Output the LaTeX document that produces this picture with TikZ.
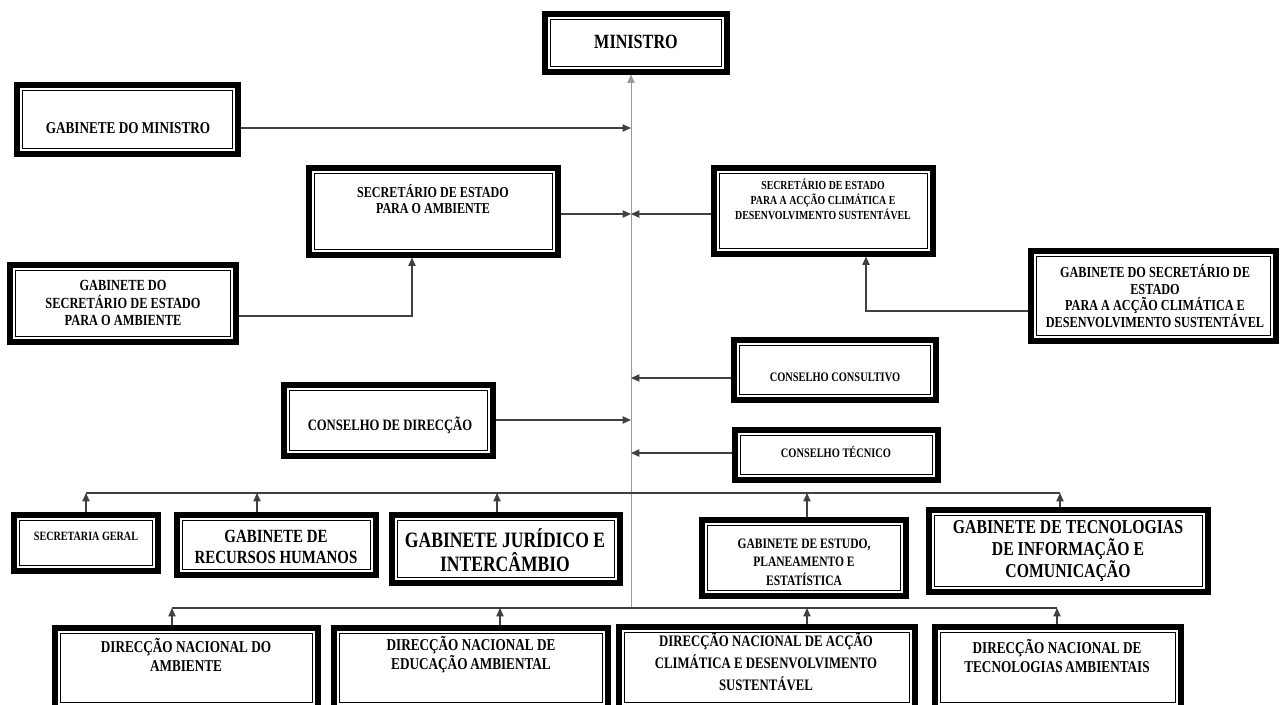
\documentclass[tikz,border=0pt]{standalone}
\usepackage{fontspec}
\setmainfont{Liberation Serif}[FakeStretch=0.8]
\usetikzlibrary{arrows.meta,fit}

\begin{document}
\begin{tikzpicture}[y=-0.02cm,x=0.02cm,
	obox/.style={draw, line width=2.9pt, inner sep=0pt, fit={#1},
		path picture={\draw[line width=0.6pt]
			([shift={(3.1pt,-3.1pt)}]path picture bounding box.north west) rectangle
			([shift={(-3.1pt,3.1pt)}]path picture bounding box.south east);}},
	lbl/.style 2 args={font=\bfseries\fontsize{#1}{#2}\selectfont, align=center, inner sep=0pt},
	conn/.style={draw=black!75, line width=0.6pt},
	arr/.style={conn, -{Triangle[length=4.8pt,width=4.2pt]}},
	spine/.style={draw=black!40, line width=0.5pt, -{Triangle[length=4.8pt,width=4.2pt]}}]
	\useasboundingbox (0,0) rectangle (1282,704);
	\clip (0,0) rectangle (1282,704);

	% top of the chart
	\node[obox={(545,14) (727,72)}] (min) {};
	\node[lbl={11.5}{13}] (min-t) at (636,42) {MINISTRO};

	\node[obox={(17,85) (238,154)}] (gm) {};
	\node[lbl={9.4}{11}] (gm-t) at (128,128) {GABINETE DO MINISTRO};

	\node[obox={(309,168) (558,255)}] (sea) {};
	\node[lbl={8.6}{9.2}] (sea-t) at (433,199) {SECRETÁRIO DE ESTADO\\PARA O AMBIENTE};

	\node[obox={(714,168) (933,254)}] (seac) {};
	\node[lbl={7}{8.5}] (seac-t) at (823,199) {SECRETÁRIO DE ESTADO\\PARA A ACÇÃO CLIMÁTICA E\\DESENVOLVIMENTO SUSTENTÁVEL};

	\node[obox={(10,265) (236,342)}] (gsea) {};
	\node[lbl={8.8}{9.8}] (gsea-t) at (123,303) {GABINETE DO\\SECRETÁRIO DE ESTADO\\PARA O AMBIENTE};

	\node[obox={(1031,251) (1276,341)}] (gseac) {};
	\node[lbl={8.7}{9.6}] (gseac-t) at (1155,296) {GABINETE DO SECRETÁRIO DE\\ESTADO\\PARA A ACÇÃO CLIMÁTICA E\\DESENVOLVIMENTO SUSTENTÁVEL};

	% conselhos
	\node[obox={(734,340) (936,400)}] (cc) {};
	\node[lbl={7.4}{9}] (cc-t) at (835,377) {CONSELHO CONSULTIVO};

	\node[obox={(284,385) (493,456)}] (cd) {};
	\node[lbl={9}{10}] (cd-t) at (390,425) {CONSELHO DE DIRECÇÃO};

	\node[obox={(735,430) (938,480)}] (ct) {};
	\node[lbl={7.4}{9}] (ct-t) at (836,452) {CONSELHO TÉCNICO};

	% first row
	\node[obox={(14,515) (158,571)}] (sg) {};
	\node[lbl={7.2}{9}] (sg-t) at (86,536) {SECRETARIA GERAL};

	\node[obox={(177,515) (376,575)}] (grh) {};
	\node[lbl={10.6}{11.5}] (grh-t) at (276,547) {GABINETE DE\\RECURSOS HUMANOS};

	\node[obox={(392,515) (620,583)}] (gji) {};
	\node[lbl={12.5}{14}] (gji-t) at (505,550) {GABINETE JURÍDICO E\\INTERCÂMBIO};

	\node[obox={(702,520) (906,596)}] (gepe) {};
	\node[lbl={8.2}{10.5}] (gepe-t) at (804,562) {GABINETE DE ESTUDO,\\PLANEAMENTO E\\ESTATÍSTICA};

	\node[obox={(929,510) (1208,592)}] (gtic) {};
	\node[lbl={11.2}{12.5}] (gtic-t) at (1068,551) {GABINETE DE TECNOLOGIAS\\DE INFORMAÇÃO E\\COMUNICAÇÃO};

	% second row
	\node[obox={(55,628) (318,708)}] (dna) {};
	\node[lbl={9.4}{10.8}] (dna-t) at (186,655) {DIRECÇÃO NACIONAL DO\\AMBIENTE};

	\node[obox={(334,628) (608,708)}] (dnea) {};
	\node[lbl={9.4}{10.8}] (dnea-t) at (471,655) {DIRECÇÃO NACIONAL DE\\EDUCAÇÃO\,AMBIENTAL};

	\node[obox={(619,627) (915,708)}] (dnac) {};
	\node[lbl={9.1}{12.5}] (dnac-t) at (766,662) {DIRECÇÃO NACIONAL DE ACÇÃO\\CLIMÁTICA E DESENVOLVIMENTO\\SUSTENTÁVEL};

	\node[obox={(935,627) (1181,708)}] (dnta) {};
	\node[lbl={9.4}{10.8}] (dnta-t) at (1057,656) {DIRECÇÃO NACIONAL DE\\TECNOLOGIAS\,AMBIENTAIS};

	% spine and connectors
	\coordinate (spb) at (631,608);
	\coordinate (r1) at (0,493);
	\coordinate (r2) at (0,608);
	\draw[spine] (spb) -- (spb |- min.south);

	\draw[arr] (gm.east |- 0,128) -- (spb |- 0,128);
	\draw[arr] (sea.east |- 0,214) -- (spb |- 0,214);
	\draw[arr] (seac.west |- 0,214) -- (spb |- 0,214);
	\draw[arr] (gsea.east |- 0,316) -| (412,0 |- sea.south);
	\draw[arr] (gseac.west |- 0,311) -| (866,0 |- seac.south);
	\draw[arr] (cc.west |- 0,378) -- (spb |- 0,378);
	\draw[arr] (cd.east |- 0,420) -- (spb |- 0,420);
	\draw[arr] (ct.west |- 0,453) -- (spb |- 0,453);

	\draw[conn] (86,0 |- r1) -- (1060,0 |- r1);
	\draw[arr] (86,0 |- sg.north) -- (86,0 |- r1);
	\draw[arr] (257,0 |- grh.north) -- (257,0 |- r1);
	\draw[arr] (497,0 |- gji.north) -- (497,0 |- r1);
	\draw[arr] (807,0 |- gepe.north) -- (807,0 |- r1);
	\draw[arr] (1060,0 |- gtic.north) -- (1060,0 |- r1);

	\draw[conn] (172,0 |- r2) -- (1057,0 |- r2);
	\draw[arr] (172,0 |- dna.north) -- (172,0 |- r2);
	\draw[arr] (500,0 |- dnea.north) -- (500,0 |- r2);
	\draw[arr] (807,0 |- dnac.north) -- (807,0 |- r2);
	\draw[arr] (1057,0 |- dnta.north) -- (1057,0 |- r2);
\end{tikzpicture}
\end{document}
